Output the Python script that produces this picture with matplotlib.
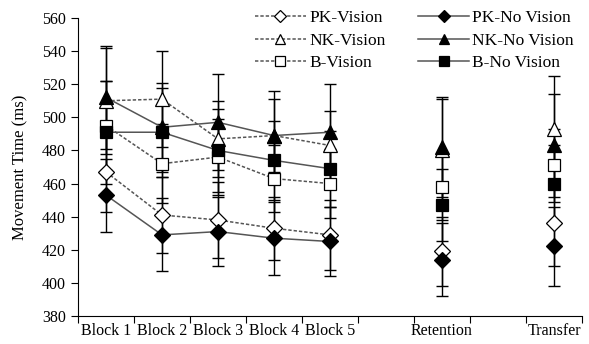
import matplotlib.pyplot as plt

plt.rcParams['font.family'] = ['Liberation Serif', 'DejaVu Serif']

categories = ["Block 1", "Block 2", "Block 3", "Block 4", "Block 5",
              "", "Retention", "", "Transfer"]
# slot index of each measured point (blank slots leave gaps)
slots = [0, 1, 2, 3, 4, 6, 8]
n_blocks = 5

pk_vision = [467, 441, 438, 433, 429, 419, 436]
pk_vision_err = [24, 23, 23, 19, 21, 21, 26]
pk_novision = [453, 429, 431, 427, 425, 414, 422]
pk_novision_err = [22, 22, 21, 22, 21, 22, 24]
nk_vision = [510, 511, 487, 489, 483, 480, 493]
nk_vision_err = [32, 29, 23, 22, 21, 31, 32]
nk_novision = [512, 494, 497, 489, 491, 482, 483]
nk_novision_err = [31, 27, 29, 27, 29, 30, 31]
b_vision = [495, 472, 476, 463, 460, 458, 471]
b_vision_err = [27, 24, 23, 20, 21, 20, 22]
b_novision = [491, 491, 480, 474, 469, 447, 460]
b_novision_err = [31, 27, 25, 24, 23, 22, 23]

dash = (0, (2.2, 1.3))
series = [
    ("PK-Vision", pk_vision, pk_vision_err, "D", "white", dash),
    ("NK-Vision", nk_vision, nk_vision_err, "^", "white", dash),
    ("B-Vision", b_vision, b_vision_err, "s", "white", dash),
    ("PK-No Vision", pk_novision, pk_novision_err, "D", "black", "-"),
    ("NK-No Vision", nk_novision, nk_novision_err, "^", "black", "-"),
    ("B-No Vision", b_novision, b_novision_err, "s", "black", "-"),
]
marker_sizes = {"D": 8, "^": 9.5, "s": 8.5}

fig, ax = plt.subplots(figsize=(5.89, 3.44), dpi=100)
fig.subplots_adjust(left=78 / 589, right=582 / 589, top=1 - 18 / 344, bottom=1 - 316 / 344)

handles = []
for name, vals, errs, marker, face, ls in series:
    ax.errorbar(slots, vals, yerr=errs, fmt="none", ecolor="black",
                elinewidth=1.0, capsize=4, capthick=1.0, zorder=2)
    ax.plot(slots[:n_blocks], vals[:n_blocks], linestyle=ls, color="#555555",
            linewidth=1.1, zorder=3)
    ax.plot(slots, vals, linestyle="none", marker=marker,
            markersize=marker_sizes[marker], markerfacecolor=face,
            markeredgecolor="black", markeredgewidth=0.9, zorder=4)
    h, = ax.plot([], [], linestyle=ls, color="#555555", linewidth=1.1,
                 marker=marker, markersize=marker_sizes[marker] * 0.8,
                 markerfacecolor=face, markeredgecolor="black",
                 markeredgewidth=0.9, label=name)
    handles.append(h)

ax.set_xlim(-0.5, len(categories) - 0.5)
ax.set_ylim(380, 560)
ax.set_yticks(range(380, 561, 20))
ax.set_xticks([i - 0.5 for i in range(len(categories) + 1)])
ax.set_xticklabels([])
ax.set_xticks(range(len(categories)), minor=True)
ax.set_xticklabels(categories, minor=True)
ax.tick_params(axis="x", which="minor", length=0, pad=5, labelsize=11.5)
ax.tick_params(axis="x", which="major", length=5, direction="out")
ax.tick_params(axis="y", length=5, direction="out", labelsize=11.5)
ax.set_ylabel("Movement Time (ms)", fontsize=12, labelpad=10)
for side in ("top", "right"):
    ax.spines[side].set_visible(False)

ax.legend(handles=handles, ncol=2, frameon=False, fontsize=12.5,
          loc="upper right", bbox_to_anchor=(1.015, 1.08),
          handlelength=2.9, columnspacing=1.9, labelspacing=0.38,
          handletextpad=0.2)

fig.savefig("out.png", dpi=100)
